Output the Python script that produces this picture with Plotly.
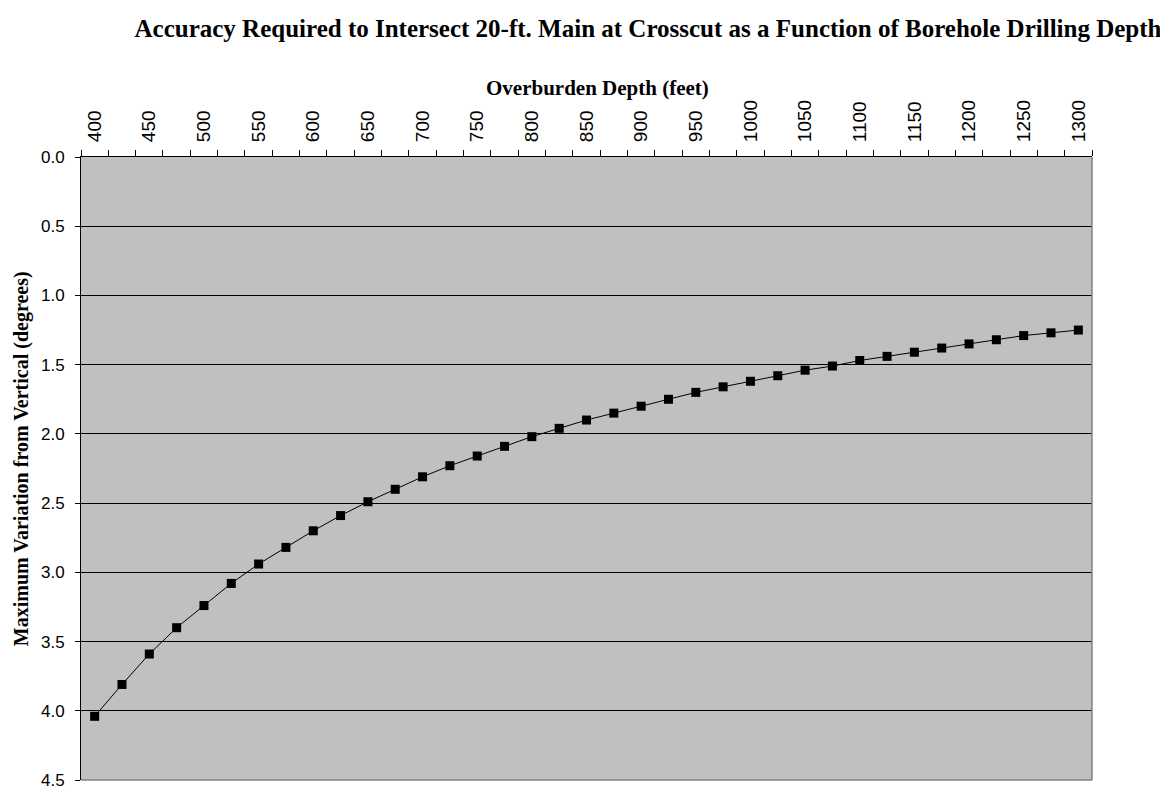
import plotly.graph_objects as go

depth_ft = [400, 425, 450, 475, 500, 525, 550, 575, 600, 625, 650, 675, 700,
            725, 750, 775, 800, 825, 850, 875, 900, 925, 950, 975, 1000, 1025,
            1050, 1075, 1100, 1125, 1150, 1175, 1200, 1225, 1250, 1275, 1300]
max_variation_deg = [4.04, 3.81, 3.59, 3.40, 3.24, 3.08, 2.94, 2.82, 2.70, 2.59,
                     2.49, 2.40, 2.31, 2.23, 2.16, 2.09, 2.02, 1.96, 1.90, 1.85,
                     1.80, 1.75, 1.70, 1.66, 1.62, 1.58, 1.54, 1.51, 1.47, 1.44,
                     1.41, 1.38, 1.35, 1.32, 1.29, 1.27, 1.25]
x_tick_values = [400, 450, 500, 550, 600, 650, 700, 750, 800, 850, 900, 950,
                 1000, 1050, 1100, 1150, 1200, 1250, 1300]
x_tick_labels = [str(v) for v in x_tick_values]
y_tick_values = [0.0, 0.5, 1.0, 1.5, 2.0, 2.5, 3.0, 3.5, 4.0, 4.5]

title_text = ("Accuracy Required to Intersect 20-ft. Main at Crosscut as a "
              "Function of Borehole Drilling Depth")
x_title = "Overburden Depth (feet)"
y_title = "Maximum Variation from Vertical (degrees)"

serif = "Liberation Serif, Times New Roman, serif"
sans = "Liberation Sans, Arial, sans-serif"

# page body has an 8px margin, so the figure starts at (8, 8)
W, H = 1160, 782
L, T, R, B = 73, 149, 76, 10
pw, ph = W - L - R, H - T - B

fig = go.Figure()
fig.add_trace(go.Scatter(
    x=depth_ft, y=max_variation_deg, mode="lines+markers",
    line=dict(color="black", width=1),
    marker=dict(symbol="square", size=9, color="black"),
    showlegend=False, hoverinfo="x+y",
))

step = depth_ft[1] - depth_ft[0]
fig.update_layout(
    width=W, height=H,
    paper_bgcolor="white", plot_bgcolor="#C0C0C0",
    margin=dict(l=L, r=R, t=T, b=B, autoexpand=False),
    title=dict(text=f"<b>{title_text}</b>", x=640 / W, xref="container",
               xanchor="center", y=1 - 20 / H, yref="container",
               yanchor="middle", font=dict(family=serif, size=25, color="black")),
    xaxis=dict(
        side="top", range=[depth_ft[0] - step / 2, depth_ft[-1] + step / 2],
        tickmode="array", tickvals=x_tick_values, ticktext=x_tick_labels,
        tickangle=-90, tickfont=dict(family=sans, size=19, color="black"),
        ticks="", ticklabelstandoff=10, automargin=False,
        minor=dict(tick0=depth_ft[0] - step / 2, dtick=step, ticks="outside",
                   ticklen=6, tickcolor="black", tickwidth=1, showgrid=False),
        showgrid=False, zeroline=False,
        showline=True, linecolor="black", linewidth=1,
    ),
    yaxis=dict(
        range=[4.5, 0], tickmode="array", tickvals=y_tick_values,
        tickformat=".1f", tickfont=dict(family=sans, size=17, color="black"),
        ticks="outside", ticklen=5, tickcolor="black", ticklabelstandoff=7,
        ticklabeloverflow="allow", automargin=False,
        showgrid=True, gridcolor="black", gridwidth=1, zeroline=False,
        showline=True, linecolor="black", linewidth=1,
    ),
    annotations=[
        dict(text=f"<b>{x_title}</b>", xref="paper", yref="paper",
             x=(597 - 81) / pw, y=1 + (157 - 88) / ph, xanchor="center",
             yanchor="middle", showarrow=False,
             font=dict(family=serif, size=21, color="black")),
        dict(text=f"<b>{y_title}</b>", xref="paper", yref="paper",
             x=-(81 - 21) / pw, y=0.515, xanchor="center", yanchor="middle",
             textangle=-90, showarrow=False,
             font=dict(family=serif, size=20, color="black")),
    ],
    shapes=[
        dict(type="line", xref="paper", yref="paper", x0=1, x1=1, y0=0, y1=1,
             line=dict(color="#808080", width=1.5), layer="above"),
        dict(type="line", xref="paper", yref="paper", x0=0, x1=1, y0=0, y1=0,
             line=dict(color="#808080", width=1.5), layer="above"),
    ],
)

fig.write_html("out.html")
